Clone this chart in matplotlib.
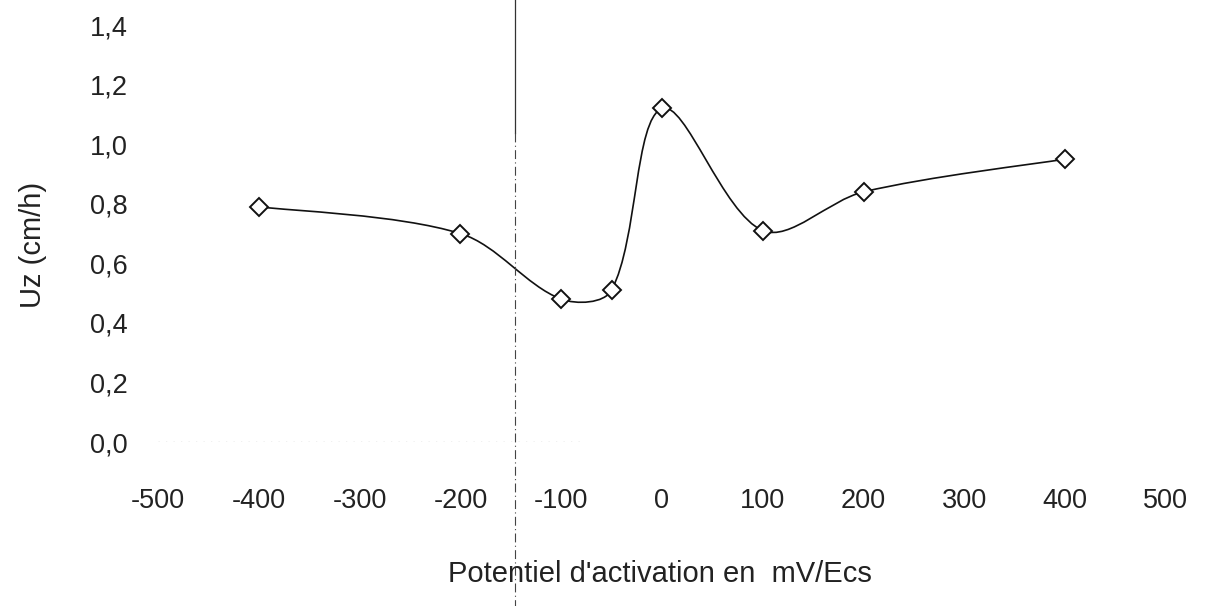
import numpy as np
import matplotlib
matplotlib.use("Agg")
import matplotlib.pyplot as plt
from matplotlib.path import Path
from matplotlib.patches import PathPatch
from matplotlib.lines import Line2D
from matplotlib.ticker import FuncFormatter

# Activation potential (mV/Ecs) and measured Uz (cm/h)
potential_mv = [-400, -200, -100, -50, 0, 100, 200, 400]
uz_cm_h = [0.79, 0.70, 0.48, 0.51, 1.12, 0.71, 0.84, 0.95]

x_ticks = [-500, -400, -300, -200, -100, 0, 100, 200, 300, 400, 500]
y_ticks = [0.0, 0.2, 0.4, 0.6, 0.8, 1.0, 1.2, 1.4]

x_label = "Potentiel d'activation en  mV/Ecs"
y_label = "Uz (cm/h)"

plt.rcParams["font.family"] = ["Liberation Sans", "DejaVu Sans"]
plt.rcParams["axes.unicode_minus"] = False

fig = plt.figure(figsize=(12.09, 6.06), dpi=100)
ax = fig.add_axes([0.1307, 0.2706, 0.8337, 0.688])
ax.set_xlim(x_ticks[0], x_ticks[-1])
ax.set_ylim(y_ticks[0], y_ticks[-1])


def smooth_path(axes, xs, ys):
    """Cubic Bezier path through the points, spreadsheet-style smoothing.

    Tangents follow the neighbouring chord; their length is weighted by the
    on-screen segment lengths so short segments do not overshoot.
    """
    pts = np.column_stack([xs, ys]).astype(float)
    scr = axes.transData.transform(pts)
    n = len(pts)
    verts = [pts[0]]
    codes = [Path.MOVETO]
    for i in range(n - 1):
        i0, i3 = max(i - 1, 0), min(i + 2, n - 1)
        p0, p1, p2, p3 = pts[i0], pts[i], pts[i + 1], pts[i3]
        d01 = np.hypot(*(scr[i] - scr[i0]))
        d12 = np.hypot(*(scr[i + 1] - scr[i]))
        d23 = np.hypot(*(scr[i3] - scr[i + 1]))
        w1 = d12 / (d01 + d12) / 3.0 if d01 > 0 else 1.0 / 6.0
        w2 = d12 / (d12 + d23) / 3.0 if d23 > 0 else 1.0 / 6.0
        c1 = p1 + (p2 - p0) * w1
        c2 = p2 - (p3 - p1) * w2
        verts += [c1, c2, p2]
        codes += [Path.CURVE4] * 3
    return Path(verts, codes)


curve = PathPatch(smooth_path(ax, potential_mv, uz_cm_h), facecolor="none",
                  edgecolor="#111111", linewidth=1.2, zorder=2)
ax.add_patch(curve)
ax.plot(potential_mv, uz_cm_h, linestyle="none", marker="D", markersize=9.5,
        markerfacecolor="white", markeredgecolor="#111111",
        markeredgewidth=1.4, zorder=3)

# faint dotted horizontal axis at zero
ax.axhline(0, xmin=0.0, xmax=0.42, color="#8a8a8a", linewidth=0.9,
           linestyle=(0, (1, 5)), zorder=1)

for side in ["top", "right", "left", "bottom"]:
    ax.spines[side].set_visible(False)

ax.set_xticks(x_ticks)
ax.set_yticks(y_ticks)
ax.yaxis.set_major_formatter(FuncFormatter(lambda v, _: f"{v:.1f}".replace(".", ",")))
ax.tick_params(axis="both", length=0, labelsize=19.5, colors="#222222")
ax.tick_params(axis="x", pad=33)
ax.tick_params(axis="y", pad=22)

fig.text(0.5459, 0.052, x_label, ha="center", va="center", fontsize=21,
         color="#222222")
fig.text(0.027, 0.596, y_label, ha="center", va="center", rotation=90,
         fontsize=21, color="#222222")

# vertical fold line across the sheet
fig.add_artist(Line2D([0.426, 0.426], [1.0, 0.78], transform=fig.transFigure,
                      color="#333333", linewidth=0.9))
fig.add_artist(Line2D([0.426, 0.426], [0.78, 0.0], transform=fig.transFigure,
                      color="#444444", linewidth=0.8, linestyle=(0, (8, 3, 1, 3))))

fig.savefig("out.png", dpi=100, facecolor="white")
